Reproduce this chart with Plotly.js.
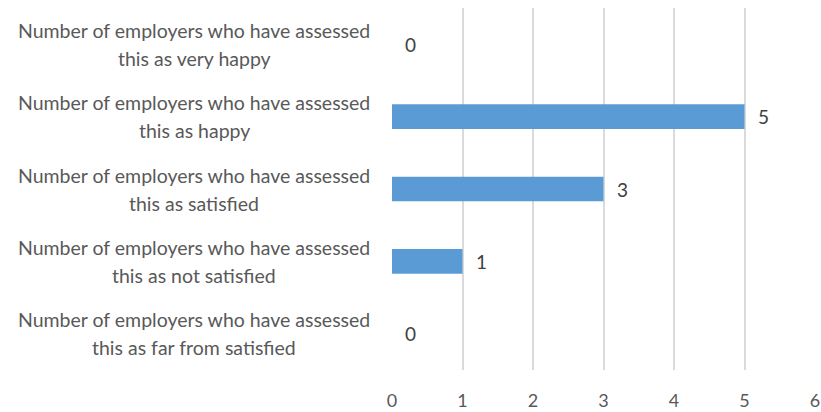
<!DOCTYPE html>
<html>
<head>
<meta charset="utf-8">
<script src="https://cdn.plot.ly/plotly-3.0.1.min.js"></script>
<style>html,body{margin:0;padding:0;background:#fff;}#chart{width:821px;height:412px;}</style>
</head>
<body>
<div id="chart"></div>
<script>
var categories = [
  "Number of employers who have assessed<br>this as very happy",
  "Number of employers who have assessed<br>this as happy",
  "Number of employers who have assessed<br>this as satisfied",
  "Number of employers who have assessed<br>this as not satisfied",
  "Number of employers who have assessed<br>this as far from satisfied"
];
var values = [0, 5, 3, 1, 0];
var xTicks = [0, 1, 2, 3, 4, 5, 6];

var FONT = "Lato, 'Liberation Sans', sans-serif";

var trace = {
  type: "bar",
  orientation: "h",
  x: values,
  y: categories,
  marker: {color: "#5B9BD5", line: {width: 0}},
  hoverinfo: "none"
};

var annotations = [];
categories.forEach(function (c, i) {
  var lines = c.split("<br>");
  lines.forEach(function (ln, k) {
    annotations.push({
      xref: "paper", yref: "y", x: 0, y: c,
      text: ln, showarrow: false, xanchor: "center", yanchor: "middle",
      align: "center", xshift: -198,
      yshift: (lines.length - 1) * 14 - k * 28,
      font: {family: FONT, size: 19.5, color: "#595959"}
    });
  });
  annotations.push({
    xref: "x", yref: "y", x: values[i], y: c,
    text: String(values[i]), showarrow: false, xanchor: "left", yanchor: "middle",
    xshift: 11, yshift: 0,
    font: {family: FONT, size: 19, color: "#404040"}
  });
});

var layout = {
  width: 821, height: 412,
  margin: {l: 392, r: 6, t: 8, b: 42},
  paper_bgcolor: "#ffffff", plot_bgcolor: "#ffffff",
  showlegend: false,
  bargap: 0.66,
  font: {family: FONT, color: "#595959"},
  xaxis: {
    range: [0, 6],
    tickvals: xTicks,
    ticktext: xTicks.map(String),
    showgrid: true, gridcolor: "#dadada", gridwidth: 2,
    zeroline: false, showline: false,
    ticks: "outside", ticklen: 14, tickcolor: "rgba(0,0,0,0)",
    tickfont: {family: FONT, size: 18, color: "#595959"},
    fixedrange: true
  },
  yaxis: {
    type: "category",
    categoryorder: "array",
    categoryarray: categories.slice().reverse(),
    autorange: false,
    range: [-0.5, 4.5],
    showticklabels: false,
    showgrid: false, zeroline: false, showline: false, ticks: "",
    fixedrange: true
  },
  annotations: annotations
};

Plotly.newPlot("chart", [trace], layout, {displayModeBar: false, staticPlot: true});
</script>
</body>
</html>
